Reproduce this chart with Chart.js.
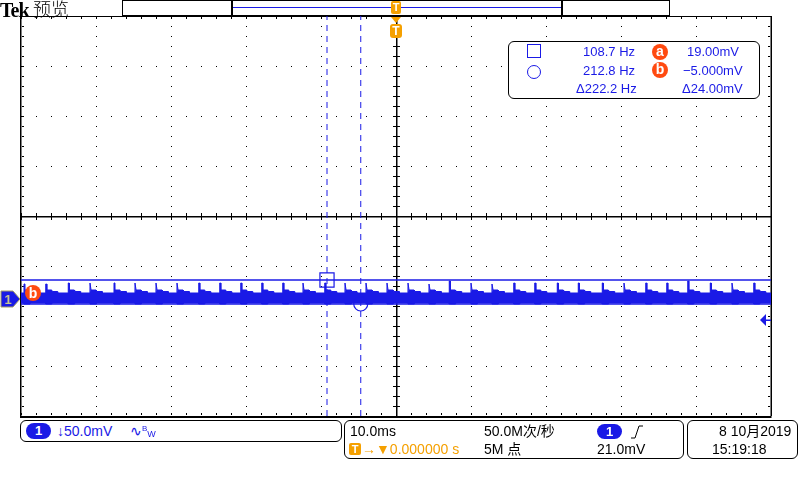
<!DOCTYPE html>
<html>
<head>
<meta charset="utf-8">
<script src="https://cdn.jsdelivr.net/npm/chart.js@4/dist/chart.umd.min.js"></script>
<style>
    body { margin: 0; background: #fff; font-family: 'Liberation Sans', Arial, 'Noto Sans CJK SC', sans-serif; }
    #wrap { position: relative; width: 800px; height: 480px; overflow: hidden; }
    #scope { position: absolute; left: 0; top: 0; }
    .abs { position: absolute; white-space: nowrap; line-height: 1; }
    .box { position: absolute; box-sizing: border-box; border: 1px solid #000; border-radius: 6px; background: #fff; }
    .blue { color: #1a1ae6; }
    .orange { color: #f5a000; }
    .pill { position: absolute; background: #1a1ae6; color: #fff; border-radius: 8px; text-align: center; font-weight: bold; font-size: 13px; }
    .tag { position: absolute; width: 16px; height: 16px; border-radius: 50%; background: #ff4a10; color: #fff; font-weight: bold; text-align: center; font-size: 14px; line-height: 15px; }
    .r13 { font-size: 13px; }
    .r14 { font-size: 14px; }
</style>
</head>
<body>
<div id="wrap">
    <canvas id="scope" width="800" height="480"></canvas>

    <!-- header -->
    <div class="abs" style="left:0;top:0;font-family:'Liberation Serif',serif;font-weight:bold;font-size:20px;letter-spacing:-1px;">Tek</div>
    <div class="abs" style="left:33px;top:-1px;font-family:'Noto Sans CJK SC',sans-serif;font-size:18px;font-weight:300;">预览</div>
    <div class="abs" style="left:122px;top:0;width:548px;height:16px;box-sizing:border-box;border:1px solid #000;"></div>
    <div class="abs" style="left:231px;top:0;width:2px;height:16px;background:#000;"></div>
    <div class="abs" style="left:561px;top:0;width:2px;height:16px;background:#000;"></div>
    <div class="abs" style="left:233px;top:7px;width:328px;height:1px;background:#1a1ae6;"></div>
    <div class="abs" style="left:391px;top:1px;width:10px;height:13px;background:#f5a000;border-radius:2px;color:#fff;font-weight:bold;font-size:11px;text-align:center;line-height:13px;">T</div>

    <!-- cursor readout -->
    <div class="box" style="left:508px;top:41px;width:252px;height:58px;"></div>
    <div class="abs" style="left:527px;top:44px;width:14px;height:14px;box-sizing:border-box;border:1.5px solid #1a1ae6;"></div>
    <div class="abs" style="left:527px;top:65px;width:14px;height:14px;box-sizing:border-box;border:1.5px solid #1a1ae6;border-radius:50%;"></div>
    <div class="abs blue r13" style="left:583px;top:45px;">108.7 Hz</div>
    <div class="abs blue r13" style="left:583px;top:64px;">212.8 Hz</div>
    <div class="abs blue r13" style="left:576px;top:82px;">Δ222.2 Hz</div>
    <div class="tag" style="left:652px;top:44px;">a</div>
    <div class="tag" style="left:652px;top:62px;">b</div>
    <div class="abs blue r13" style="left:687px;top:45px;">19.00mV</div>
    <div class="abs blue r13" style="left:683px;top:64px;">−5.000mV</div>
    <div class="abs blue r13" style="left:682px;top:82px;">Δ24.00mV</div>

    <!-- status bar -->
    <div class="box" style="left:20px;top:420px;width:322px;height:22px;"></div>
    <div class="pill" style="left:26px;top:423px;width:25px;height:16px;line-height:16px;">1</div>
    <div class="abs blue r14" style="left:57px;top:424px;">↓50.0mV</div>
    <div class="abs blue r14" style="left:130px;top:424px;">∿<span style="font-size:8px;position:relative;top:-5px;">B</span><span style="font-size:9px;position:relative;top:1px;">W</span></div>

    <div class="box" style="left:344px;top:420px;width:340px;height:39px;"></div>
    <div class="abs r14" style="left:350px;top:424px;">10.0ms</div>
    <div class="abs" style="left:349px;top:443px;width:12px;height:12px;background:#f5a000;border-radius:2px;color:#fff;font-weight:bold;font-size:11px;text-align:center;line-height:12px;">T</div>
    <div class="abs orange r14" style="left:362px;top:442px;">→▼0.000000 s</div>
    <div class="abs r14" style="left:484px;top:424px;">50.0M次/秒</div>
    <div class="abs r14" style="left:484px;top:442px;">5M 点</div>
    <div class="pill" style="left:597px;top:424px;width:25px;height:15px;line-height:15px;">1</div>
    <svg class="abs" style="left:630px;top:424px;" width="14" height="16"><polyline points="1,14 5,14 9,2 13,2" fill="none" stroke="#000" stroke-width="1"/></svg>
    <div class="abs r14" style="left:597px;top:442px;">21.0mV</div>

    <div class="box" style="left:687px;top:420px;width:111px;height:39px;"></div>
    <div class="abs r14" style="left:719px;top:424px;">8 10月2019</div>
    <div class="abs r14" style="left:712px;top:442px;">15:19:18</div>
</div>

<script>
// time axis in ms (10 ms/div), level axis in mV relative to channel 1 ground (50 mV/div)
const timeMin = -50;
const timeMax = 50;
const levelMin = -117;
const levelMax = 283;
const timeMinor = 2;
const levelMinor = 10;

// cursors: a = square, b = circle
const cursorTimes = [-9.2, -4.7];
const cursorLevels = [19, -5];
const triggerTime = 0;
const triggerLevel = -21;

// spikes of the ripple
const spikeTimes = [-49.6, -46.7, -43.7, -40.8, -37.6, -34.8, -32.0, -29.2, -26.3, -23.5,
    -20.7, -17.9, -15.1, -12.4, -9.5, -6.8, -4.0, -1.2, 1.6, 4.4,
    7.1, 10.0, 12.8, 15.7, 18.5, 21.5, 24.3, 27.5, 30.4, 33.3,
    36.1, 38.9, 41.9, 44.8, 47.7];
const spikeTops = [15, 15, 16, 16, 16, 16, 16, 16, 16, 16,
    16, 16, 16, 16, 16, 16, 16, 16, 16, 15,
    18, 16, 15, 16, 16, 16, 16, 16, 16, 16,
    16, 18, 16, 16, 16];

// shape of the band around one spike (ms after the spike, mV)
const pulseOffsets = [-0.01, 0, 0.13, 0.14, 0.8, 0.85, 1.6, 1.65];
const pulseTop = [6, null, null, 9, 9, 7.5, 7.5, 6];
const pulseBottom = [-4, -5, -5, -5, -5, -4, -4, -4];
const bandTop = 6;
const bandBottom = -4;

const blue = '#1a1ae6';
const orange = '#f5a000';

function buildTrace() {
    const upper = [{ x: timeMin, y: bandTop }];
    const lower = [{ x: timeMin, y: bandBottom }];
    spikeTimes.forEach((t, i) => {
        pulseOffsets.forEach((dt, k) => {
            upper.push({ x: t + dt, y: pulseTop[k] === null ? spikeTops[i] : pulseTop[k] });
            lower.push({ x: t + dt, y: pulseBottom[k] });
        });
    });
    upper.push({ x: timeMax, y: bandTop });
    lower.push({ x: timeMax, y: bandBottom });
    return { upper, lower };
}

const graticule = {
    id: 'graticule',
    beforeDatasetsDraw(chart) {
        const { ctx, chartArea: a, scales: { x, y } } = chart;
        const midT = (timeMin + timeMax) / 2;
        const midL = (levelMin + levelMax) / 2;
        ctx.save();
        ctx.fillStyle = '#000';

        // dotted division lines
        for (let t = timeMin + 10; t < timeMax; t += 10) {
            const px = Math.round(x.getPixelForValue(t));
            for (let l = levelMin; l <= levelMax; l += levelMinor) {
                ctx.fillRect(px, Math.round(y.getPixelForValue(l)), 1, 1);
            }
        }
        for (let l = levelMin + 50; l < levelMax; l += 50) {
            const py = Math.round(y.getPixelForValue(l));
            for (let t = timeMin; t <= timeMax; t += timeMinor) {
                ctx.fillRect(Math.round(x.getPixelForValue(t)), py, 1, 1);
            }
        }

        // centre cross with ticks
        const cx = Math.round(x.getPixelForValue(midT));
        const cy = Math.round(y.getPixelForValue(midL));
        ctx.fillRect(a.left, cy, a.right - a.left, 1.5);
        ctx.fillRect(cx, a.top, 1.5, a.bottom - a.top);
        for (let t = timeMin; t <= timeMax; t += timeMinor) {
            const px = Math.round(x.getPixelForValue(t));
            ctx.fillRect(px, cy - 3, 1, 7);
            ctx.fillRect(px, a.top + 1, 1, 2);
            ctx.fillRect(px, a.bottom - 3, 1, 2);
        }
        for (let l = levelMin; l <= levelMax; l += levelMinor) {
            const py = Math.round(y.getPixelForValue(l));
            ctx.fillRect(cx - 3, py, 7, 1);
            ctx.fillRect(a.left + 1, py, 2, 1);
            ctx.fillRect(a.right - 3, py, 2, 1);
        }

        // frame
        ctx.fillRect(a.left - 1, a.top, 1.5, a.bottom - a.top);
        ctx.fillRect(a.right - 0.5, a.top, 1.5, a.bottom - a.top);
        ctx.fillRect(a.left - 1, a.top, a.right - a.left + 1.5, 1);
        ctx.fillRect(a.left - 1, a.bottom, a.right - a.left + 1.5, 2);
        ctx.restore();
    },
    afterDatasetsDraw(chart) {
        const { ctx, chartArea: a, scales: { x, y } } = chart;
        ctx.save();

        // channel 1 ground marker
        const gy = y.getPixelForValue(0);
        ctx.beginPath();
        ctx.moveTo(1, gy - 8);
        ctx.lineTo(13, gy - 8);
        ctx.lineTo(20, gy);
        ctx.lineTo(13, gy + 8);
        ctx.lineTo(1, gy + 8);
        ctx.closePath();
        ctx.fillStyle = blue;
        ctx.fill();
        ctx.strokeStyle = '#a8a060';
        ctx.lineWidth = 1;
        ctx.stroke();
        ctx.fillStyle = '#c8c490';
        ctx.font = 'bold 13px "Liberation Sans", Arial';
        ctx.textAlign = 'center';
        ctx.textBaseline = 'middle';
        ctx.fillText('1', 8, gy + 1);

        // cursor b tag on the left edge
        ctx.beginPath();
        ctx.arc(a.left + 12, gy - 6, 8, 0, Math.PI * 2);
        ctx.fillStyle = '#ff4a10';
        ctx.fill();
        ctx.fillStyle = '#fff';
        ctx.font = 'bold 14px "Liberation Sans", Arial';
        ctx.fillText('b', a.left + 12, gy - 5);

        // trigger level arrow
        const ty = y.getPixelForValue(triggerLevel);
        ctx.fillStyle = blue;
        ctx.beginPath();
        ctx.moveTo(a.right - 11, ty);
        ctx.lineTo(a.right - 5, ty - 6);
        ctx.lineTo(a.right - 5, ty + 6);
        ctx.closePath();
        ctx.fill();
        ctx.fillRect(a.right - 5, ty - 0.5, 5, 1.5);

        // trigger position marker
        const tx = x.getPixelForValue(triggerTime);
        ctx.fillStyle = orange;
        ctx.beginPath();
        ctx.moveTo(tx - 5, a.top + 1);
        ctx.lineTo(tx + 5, a.top + 1);
        ctx.lineTo(tx, a.top + 7);
        ctx.closePath();
        ctx.fill();
        ctx.beginPath();
        ctx.roundRect(tx - 6, a.top + 8, 12, 14, 3);
        ctx.fill();
        ctx.fillStyle = '#fff';
        ctx.font = 'bold 12px "Liberation Sans", Arial';
        ctx.fillText('T', tx, a.top + 15.5);
        ctx.restore();
    }
};

const trace = buildTrace();

new Chart(document.getElementById('scope').getContext('2d'), {
    type: 'line',
    data: {
        datasets: [
            {
                data: trace.upper,
                borderColor: blue,
                borderWidth: 1,
                pointRadius: 0,
                fill: false,
                order: 5
            },
            {
                data: trace.lower,
                borderColor: blue,
                borderWidth: 1,
                pointRadius: 0,
                backgroundColor: blue,
                fill: '-1',
                order: 5
            },
            {
                data: [{ x: timeMin, y: cursorLevels[0] }, { x: timeMax, y: cursorLevels[0] }],
                borderColor: blue,
                borderWidth: 1.5,
                pointRadius: 0,
                order: 1
            },
            {
                data: [{ x: timeMin, y: cursorLevels[1] }, { x: timeMax, y: cursorLevels[1] }],
                borderColor: blue,
                borderWidth: 1.5,
                pointRadius: 0,
                order: 1
            },
            {
                data: [{ x: cursorTimes[0], y: levelMin }, { x: cursorTimes[0], y: levelMax }],
                borderColor: blue,
                borderWidth: 1,
                borderDash: [6, 5],
                pointRadius: 0,
                order: 1
            },
            {
                data: [{ x: cursorTimes[1], y: levelMin }, { x: cursorTimes[1], y: levelMax }],
                borderColor: blue,
                borderWidth: 1,
                borderDash: [6, 5],
                pointRadius: 0,
                order: 1
            },
            {
                data: [{ x: cursorTimes[0], y: cursorLevels[0] }],
                showLine: false,
                pointStyle: 'rect',
                pointRadius: 10,
                pointBorderColor: blue,
                pointBorderWidth: 1.2,
                pointBackgroundColor: 'rgba(0,0,0,0)',
                order: 0
            },
            {
                data: [{ x: cursorTimes[1], y: cursorLevels[1] }],
                showLine: false,
                pointStyle: 'circle',
                pointRadius: 7,
                pointBorderColor: blue,
                pointBorderWidth: 1.2,
                pointBackgroundColor: 'rgba(0,0,0,0)',
                order: 0
            }
        ]
    },
    options: {
        responsive: false,
        animation: false,
        layout: { padding: { left: 21, right: 29, top: 16, bottom: 64 } },
        scales: {
            x: { type: 'linear', min: timeMin, max: timeMax, display: false },
            y: { type: 'linear', min: levelMin, max: levelMax, display: false }
        },
        plugins: {
            legend: { display: false },
            tooltip: { enabled: false }
        }
    },
    plugins: [graticule]
});
</script>
</body>
</html>
